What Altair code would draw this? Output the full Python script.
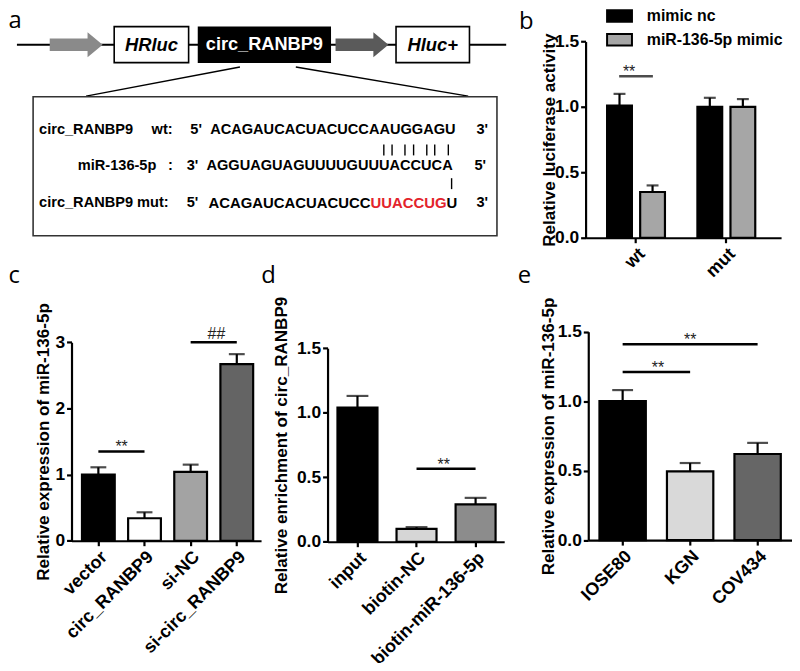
import altair as alt
import pandas as pd

W, H = 790, 655
M = 8  # page margin: the chart origin sits at page pixel (8, 8)


def X(v):
    return v - M


def Y(v):
    return v - M


FONT = "Liberation Sans"

# ---------------- data ----------------
b_groups = ["wt", "wt", "mut", "mut"]
b_series = ["mimic nc", "miR-136-5p mimic", "mimic nc", "miR-136-5p mimic"]
b_mean = [1.01, 0.35, 1.00, 1.00]
b_err = [0.09, 0.05, 0.07, 0.06]
b_colors = ["#000000", "#a6a6a6"]

c_cats = ["vector", "circ_RANBP9", "si-NC", "si-circ_RANBP9"]
c_mean = [1.00, 0.34, 1.04, 2.67]
c_err = [0.11, 0.09, 0.11, 0.15]
c_colors = ["#000000", "#ffffff", "#a3a3a3", "#646464"]

d_cats = ["input", "biotin-NC", "biotin-miR-136-5p"]
d_mean = [1.04, 0.10, 0.29]
d_err = [0.09, 0.013, 0.05]
d_colors = ["#000000", "#d6d6d6", "#8c8c8c"]

e_cats = ["IOSE80", "KGN", "COV434"]
e_mean = [1.00, 0.495, 0.62]
e_err = [0.08, 0.06, 0.08]
e_colors = ["#000000", "#d9d9d9", "#666666"]

# significance marks: (from, to, height, label, label anchored at this category)
b_sig = [("wt", 1.235, "**")]
c_sig = [("vector", "circ_RANBP9", 1.35, "**", "vector"),
         ("si-NC", "si-circ_RANBP9", 3.0, "##", "si-NC")]
d_sig = [("biotin-NC", "biotin-miR-136-5p", 0.565, "**", "biotin-NC")]
e_sig = [("IOSE80", "COV434", 1.41, "**", "KGN"),
         ("IOSE80", "KGN", 1.21, "**", "IOSE80")]

seq_wt = "ACAGAUCACUACUCCAAUGGAGU"
seq_mir = "AGGUAGUAGUUUUGUUUACCUCA"
seq_mut = ["ACAGAUCACUACUCC", "UUACCUG", "U"]


# ---------------- helpers ----------------
# Every layer of one panel gets an identical explicit scale, so that the
# independent (per-layer) scales of the top-level layer map identically.
def band_scale(cats, x0, x1, pi, po, al):
    return alt.Scale(domain=cats, range=[X(x0), X(x1)], paddingInner=pi,
                     paddingOuter=po, align=al)


def lin_scale(dom, y0, y1):
    return alt.Scale(domain=dom, range=[Y(y0), Y(y1)], nice=False, zero=True)


def x_axis(y0):
    return alt.Axis(orient="bottom", offset=Y(y0) - H, labelAngle=-45, title=None,
                    labelOverlap=False, labelFontSize=18, labelLimit=400)


def y_axis(x0, vals, fmt, title, tx):
    return alt.Axis(orient="left", offset=-X(x0), values=vals, format=fmt,
                    title=title, titleX=tx)


def sig_layers(sig, xs, ys, dx, dy):
    df = pd.DataFrame([sig], columns=["a", "b", "h", "t", "m"])
    line = alt.Chart(df).mark_rule(color="black", strokeWidth=2.5).encode(
        x=alt.X("a:N", scale=xs, axis=None), x2="b:N",
        y=alt.Y("h:Q", scale=ys, axis=None))
    txt = alt.Chart(df).mark_text(font=FONT, fontSize=16, color="#222", dx=dx, dy=dy,
                                  baseline="alphabetic").encode(
        x=alt.X("m:N", scale=xs, axis=None), y=alt.Y("h:Q", scale=ys, axis=None),
        text="t:N")
    return [line, txt]


def bar_panel(cats, mean, err, colors, frame, pads, ydom, yvals, yfmt, ytitle, tx,
              cap, sigs, sig_offsets):
    x0, x1, y0, y1 = frame
    df = pd.DataFrame({"cat": cats, "mean": mean,
                       "top": [m + e for m, e in zip(mean, err)]})
    xs = band_scale(cats, x0, x1, *pads)
    ys = lin_scale(ydom, y0, y1)
    bars = alt.Chart(df).mark_bar(stroke="black", strokeWidth=2.2).encode(
        x=alt.X("cat:N", scale=xs, axis=x_axis(y0)),
        y=alt.Y("mean:Q", scale=ys, axis=y_axis(x0, yvals, yfmt, ytitle, tx)),
        fill=alt.Fill("cat:N", scale=alt.Scale(domain=cats, range=colors), legend=None))
    stem = alt.Chart(df).mark_rule(color="black", strokeWidth=2.2).encode(
        x=alt.X("cat:N", scale=xs, axis=None),
        y=alt.Y("mean:Q", scale=ys, axis=None), y2="top:Q")
    caps = alt.Chart(df).mark_tick(color="black", thickness=2.2, size=cap,
                                   orient="horizontal").encode(
        x=alt.X("cat:N", scale=xs, axis=None), y=alt.Y("top:Q", scale=ys, axis=None))
    layers = [bars, stem, caps]
    for sig, (dx, dy) in zip(sigs, sig_offsets):
        layers += sig_layers(sig, xs, ys, dx, dy)
    return layers


# ---------------- panel a (schematic) ----------------
ax = alt.Scale(domain=[M, M + W], range=[0, W])
ay = alt.Scale(domain=[M, M + H], range=[0, H])


def PX(f):
    return alt.X(f, scale=ax, axis=None)


def PY(f):
    return alt.Y(f, scale=ay, axis=None)


backbone = alt.Chart(pd.DataFrame({"x": [17], "x2": [510], "y": [42.5]})).mark_rule(
    color="black", strokeWidth=2).encode(x=PX("x:Q"), x2="x2:Q", y=PY("y:Q"))

connect = alt.Chart(pd.DataFrame({"x": [241.7, 298], "y": [65, 65],
                                  "x2": [86.7, 471.7], "y2": [94.3, 94.3]})).mark_rule(
    color="black", strokeWidth=1.5).encode(x=PX("x:Q"), x2="x2:Q", y=PY("y:Q"), y2="y2:Q")

boxes = alt.Chart(pd.DataFrame({
    "x": [115, 200, 399, 33.3], "x2": [190, 332.7, 473, 500.7],
    "y": [24.3, 25, 24.3, 95], "y2": [60.5, 60, 60.5, 235],
    "f": ["white", "black", "white", "transparent"],
    "s": ["black", "black", "black", "#333333"]})).mark_rect(strokeWidth=1.6).encode(
    x=PX("x:Q"), x2="x2:Q", y=PY("y:Q"), y2="y2:Q",
    fill=alt.Fill("f:N", scale=None), stroke=alt.Stroke("s:N", scale=None))

ARROW = "M-1,-0.24L0.43,-0.24L0.43,-0.47L1,0L0.43,0.47L0.43,0.24L-1,0.24Z"
arrows = alt.Chart(pd.DataFrame({"x": [76.7, 364.7], "y": [42.5, 42.5],
                                 "c": ["#8a8a8a", "#5a5a5a"]})).mark_point(
    shape=ARROW, filled=True, size=2841, opacity=1, strokeWidth=0).encode(
    x=PX("x:Q"), y=PY("y:Q"), fill=alt.Fill("c:N", scale=None))

box_it = alt.Chart(pd.DataFrame({"x": [152.5, 436], "y": [43, 43],
                                 "t": ["HRluc", "Hluc+"]})).mark_text(
    font=FONT, fontSize=18.5, fontWeight="bold", fontStyle="italic", color="black",
    baseline="middle").encode(x=PX("x:Q"), y=PY("y:Q"), text="t:N")
box_circ = alt.Chart(pd.DataFrame({"x": [266.3], "y": [43], "t": ["circ_RANBP9"]})).mark_text(
    font=FONT, fontSize=18.3, fontWeight="bold", color="white",
    baseline="middle").encode(x=PX("x:Q"), y=PY("y:Q"), text="t:N")

seq_df = pd.DataFrame([
    (39.3, 128.3, "circ_RANBP9", "black"), (152.7, 128.3, "wt:", "black"),
    (191.7, 128.3, "5'", "black"), (211.7, 128.3, seq_wt, "black"),
    (480, 128.3, "3'", "black"),
    (78.3, 165, "miR-136-5p", "black"), (169.3, 165, ":", "black"),
    (188, 165, "3'", "black"), (208, 165, seq_mir, "black"), (478, 165, "5'", "black"),
    (39.3, 201.7, "circ_RANBP9 mut:", "black"), (188, 201.7, "5'", "black"),
    (480, 201.7, "3'", "black"),
], columns=["x", "y", "t", "c"])
seq_txt = alt.Chart(seq_df).mark_text(font=FONT, fontSize=14.7, fontWeight="bold",
                                      align="left", baseline="middle").encode(
    x=PX("x:Q"), y=PY("y:Q"), text="t:N", color=alt.Color("c:N", scale=None))

mut_df = pd.DataFrame([
    (210, 201.7, seq_mut[0], "black"), (373.3, 201.7, seq_mut[1], "#e3232b"),
    (449.9, 201.7, seq_mut[2], "black"),
], columns=["x", "y", "t", "c"])
mut_txt = alt.Chart(mut_df).mark_text(font=FONT, fontSize=15, fontWeight="bold",
                                      align="left", baseline="middle").encode(
    x=PX("x:Q"), y=PY("y:Q"), text="t:N", color=alt.Color("c:N", scale=None))

pair_df = pd.DataFrame({
    "x": [386.7, 395, 408, 416.7, 430, 438, 451.7, 455],
    "y": [143] * 7 + [177], "y2": [154] * 7 + [188]})
pairs = alt.Chart(pair_df).mark_rule(color="black", strokeWidth=1.4).encode(
    x=PX("x:Q"), y=PY("y:Q"), y2="y2:Q")

letters = alt.Chart(pd.DataFrame({
    "x": [8.5, 523, 8.5, 263.3, 521.7], "y": [26, 27, 283, 283, 283],
    "t": ["a", "b", "c", "d", "e"]})).mark_text(
    font="Open Sans", fontSize=24, color="black", align="left",
    baseline="alphabetic").encode(x=PX("x:Q"), y=PY("y:Q"), text="t:N")

panel_a = [backbone, connect, boxes, arrows, box_it, box_circ, seq_txt, mut_txt, pairs,
           letters]

# ---------------- panel b (grouped bars) ----------------
b_df = pd.DataFrame({"g": b_groups, "s": b_series, "mean": b_mean,
                     "top": [m + e for m, e in zip(b_mean, b_err)]})
b_xs = band_scale(["wt", "mut"], 590, 787, 0.268, 0.2165, 0.445)
b_os = alt.Scale(domain=["mimic nc", "miR-136-5p mimic"], paddingInner=0.25,
                 paddingOuter=0.125)
b_ys = lin_scale([0, 1.5], 237, 39.3)
LEG = "M-1.09,-0.5H1.09V0.5H-1.09Z"
b_bars = alt.Chart(b_df).mark_bar(stroke="black", strokeWidth=2.2).encode(
    x=alt.X("g:N", scale=b_xs, axis=x_axis(237)),
    xOffset=alt.XOffset("s:N", scale=b_os),
    y=alt.Y("mean:Q", scale=b_ys,
            axis=y_axis(590, [0, 0.5, 1.0, 1.5], ".1f", "Relative luciferase activity", -27)),
    fill=alt.Fill("s:N", scale=alt.Scale(domain=["mimic nc", "miR-136-5p mimic"],
                                         range=b_colors),
                  legend=alt.Legend(orient="none", legendX=X(611.7), legendY=Y(1),
                                    title=None, symbolType=LEG, symbolSize=529,
                                    symbolStrokeColor="black", symbolStrokeWidth=2,
                                    labelFont=FONT, labelFontSize=16,
                                    labelFontWeight="bold", labelColor="black",
                                    rowPadding=1, padding=0, labelOffset=15)))
b_stem = alt.Chart(b_df).mark_rule(color="black", strokeWidth=2.2).encode(
    x=alt.X("g:N", scale=b_xs, axis=None), xOffset=alt.XOffset("s:N", scale=b_os),
    y=alt.Y("mean:Q", scale=b_ys, axis=None), y2="top:Q")
b_caps = alt.Chart(b_df).mark_tick(color="black", thickness=2.2, size=12,
                                   orient="horizontal").encode(
    x=alt.X("g:N", scale=b_xs, axis=None), xOffset=alt.XOffset("s:N", scale=b_os),
    y=alt.Y("top:Q", scale=b_ys, axis=None))
b_sig_df = pd.DataFrame(b_sig, columns=["g", "h", "t"])
b_line = alt.Chart(b_sig_df).mark_tick(color="black", thickness=2.5, size=34,
                                       orient="horizontal").encode(
    x=alt.X("g:N", scale=b_xs, axis=None), y=alt.Y("h:Q", scale=b_ys, axis=None))
b_txt = alt.Chart(b_sig_df).mark_text(font=FONT, fontSize=16, color="#222", dy=1,
                                      baseline="alphabetic").encode(
    x=alt.X("g:N", scale=b_xs, axis=None), y=alt.Y("h:Q", scale=b_ys, axis=None),
    text="t:N")
panel_b = [b_bars, b_stem, b_caps, b_line, b_txt]

# ---------------- panels c, d, e ----------------
panel_c = bar_panel(c_cats, c_mean, c_err, c_colors, (72, 263, 542.3, 342.3),
                    (0.29, 0.199, 0.57), [0, 3], [0, 1, 2, 3], "d",
                    "Relative expression of miR-136-5p", -19, 16,
                    c_sig, [(23.25, 1), (23.25, -3)])
panel_d = bar_panel(d_cats, d_mean, d_err, d_colors, (330, 508, 543.3, 348.3),
                    (0.323, 0.157, 0.535), [0, 1.5], [0, 0.5, 1.0, 1.5], ".1f",
                    "Relative enrichment of circ_RANBP9", -37.3, 22,
                    d_sig, [(26, 1)])
panel_e = bar_panel(e_cats, e_mean, e_err, e_colors, (592.7, 798, 541.7, 331.7),
                    (0.313, 0.166, 0.5), [0, 1.5], [0, 0.5, 1.0, 1.5], ".1f",
                    "Relative expression of miR-136-5p", -31, 21,
                    e_sig, [(0, 1), (36, 1)])

chart = alt.layer(*(panel_a + panel_b + panel_c + panel_d + panel_e)).resolve_scale(
    x="independent", y="independent", fill="independent", color="independent",
    stroke="independent"
).resolve_axis(x="independent", y="independent").resolve_legend(
    fill="independent"
).properties(
    width=W, height=H, padding=0, autosize=alt.AutoSizeParams(type="none")
).configure_axis(
    domainColor="black", domainWidth=2.2, tickColor="black", tickWidth=2.2, tickSize=5,
    labelColor="black", labelFont=FONT, labelFontWeight="bold", labelFontSize=17.5,
    labelPadding=2, titleColor="black", titleFont=FONT, titleFontWeight="bold",
    titleFontSize=17.2, grid=False
).configure_view(stroke=None)

chart.save("out.html", embed_options={"renderer": "svg", "actions": False})
